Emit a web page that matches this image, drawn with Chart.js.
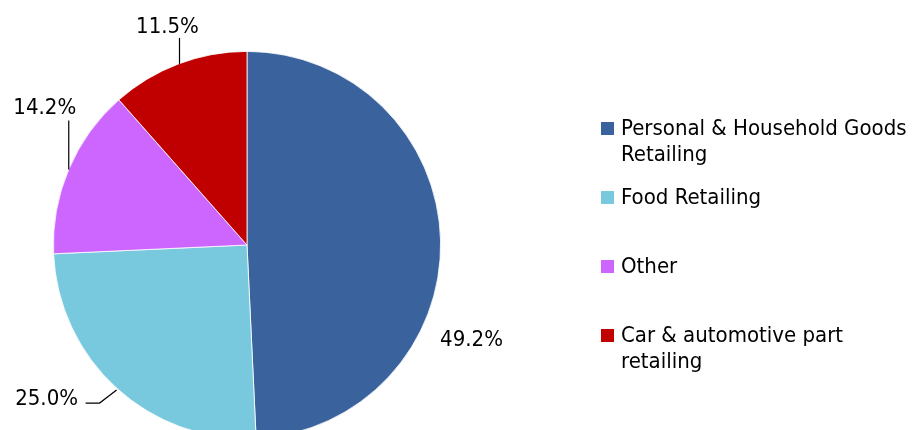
<!DOCTYPE html>
<html>
<head>
<meta charset="utf-8">
<script src="https://cdn.jsdelivr.net/npm/chart.js@4/dist/chart.umd.min.js"></script>
<style>
  html, body { margin: 0; padding: 0; background: #fff; overflow: hidden; }
  #wrap { position: relative; width: 915px; height: 440px; }
</style>
</head>
<body>
<div id="wrap"><canvas id="retailChart" width="915" height="440"></canvas></div>
<script>
// data
const categories = ['Personal & Household Goods Retailing', 'Food Retailing', 'Other', 'Car & automotive part retailing'];
const shares = [49.2, 25.0, 14.2, 11.5];
const sliceColors = ['#3A639E', '#78C9DE', '#CC66FF', '#C00000'];

// label placement relative to the slice's outer mid point (baseline, centred)
const labelOffsets = [[31, 106], [-70, 17], [-24, -55], [-11, -31]];
const leaderPaths = [
    [],
    [[0, 2], [-17, 15], [-31, 15]],
    [[0, 0], [0, -49]],
    [[1, 0], [1, -26]]
];
const FONT = '"DejaVu Sans Condensed", "DejaVu Sans", sans-serif';

const pieLabels = {
    id: 'pieLabels',
    afterDatasetsDraw(chart) {
        const ctx = chart.ctx;
        const arcs = chart.getDatasetMeta(0).data;
        ctx.save();
        ctx.font = '22px ' + FONT;
        ctx.fillStyle = '#000';
        ctx.strokeStyle = '#000';
        ctx.lineWidth = 1.2;
        ctx.textAlign = 'center';
        ctx.textBaseline = 'alphabetic';
        arcs.forEach((arc, i) => {
            const p = arc.getProps(['x', 'y', 'startAngle', 'endAngle', 'outerRadius']);
            const mid = (p.startAngle + p.endAngle) / 2;
            const ax = p.x + Math.cos(mid) * p.outerRadius;
            const ay = p.y + Math.sin(mid) * p.outerRadius;
            const path = leaderPaths[i];
            if (path.length) {
                ctx.beginPath();
                path.forEach(([dx, dy], k) => {
                    if (k === 0) ctx.moveTo(ax + dx, ay + dy);
                    else ctx.lineTo(ax + dx, ay + dy);
                });
                ctx.stroke();
            }
            const [tx, ty] = labelOffsets[i];
            ctx.fillText(shares[i].toFixed(1) + '%', ax + tx, ay + ty);
        });
        ctx.restore();
    }
};

// legend drawn on the right, wrapped like the original
const sideLegend = {
    id: 'sideLegend',
    afterDraw(chart) {
        const ctx = chart.ctx;
        const left = 601, textX = 621, firstBase = 135, pitch = 69, lineH = 26, box = 13, maxW = 296;
        ctx.save();
        ctx.font = '22px ' + FONT;
        ctx.textBaseline = 'alphabetic';
        ctx.textAlign = 'left';
        categories.forEach((label, i) => {
            const base = firstBase + pitch * i;
            ctx.fillStyle = sliceColors[i];
            ctx.fillRect(left, base - box, box, box);
            // greedy word wrap
            const words = label.split(' ');
            const lines = [];
            let cur = '';
            words.forEach(w => {
                const t = cur ? cur + ' ' + w : w;
                if (cur && ctx.measureText(t).width > maxW) { lines.push(cur); cur = w; }
                else cur = t;
            });
            lines.push(cur);
            ctx.fillStyle = '#000';
            lines.forEach((ln, k) => ctx.fillText(ln, textX, base + k * lineH));
        });
        ctx.restore();
    }
};

const chart = new Chart(document.getElementById('retailChart').getContext('2d'), {
    type: 'pie',
    data: {
        labels: categories,
        datasets: [{
            data: shares,
            backgroundColor: sliceColors,
            borderColor: '#ffffff',
            borderWidth: 0.8
        }]
    },
    options: {
        responsive: false,
        animation: false,
        layout: { padding: { left: 53, right: 474, top: 51, bottom: 1 } },
        plugins: {
            legend: { display: false },
            tooltip: { enabled: false }
        }
    },
    plugins: [pieLabels, sideLegend]
});
</script>
</body>
</html>
